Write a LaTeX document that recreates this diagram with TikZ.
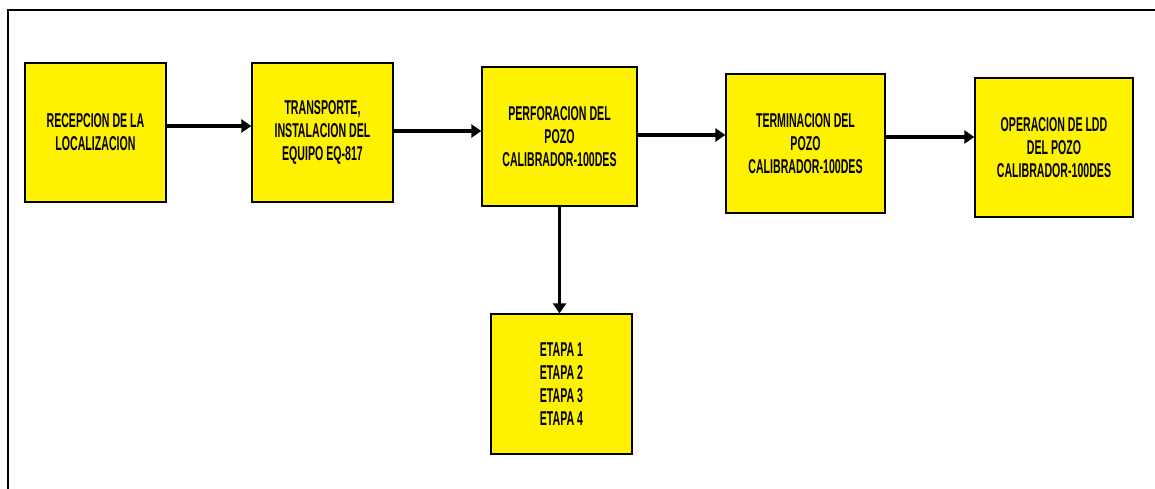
\documentclass[tikz,border=0pt]{standalone}
\usepackage{fontspec}
\setmainfont{Liberation Sans}[FakeStretch=0.53]
\usetikzlibrary{arrows.meta}
\begin{document}
\begin{tikzpicture}[x=1pt,y=-1pt,
  box/.style={draw=black, line width=1.3pt, fill=yellow, align=center, inner sep=0pt,
    font=\fontsize{20}{23}\selectfont\bfseries},
  arr/.style={line width=3.2pt, -{Triangle[length=10pt,width=13pt]}}]
\useasboundingbox (0,0) rectangle (1155,489);
\draw[line width=1.5pt] (8,489) -- (8,10) -- (1155,10);
\node[box, minimum width=141pt, minimum height=139pt] (b1) at (95.5,132.5) {RECEPCION DE LA\\LOCALIZACION};
\node[box, minimum width=141pt, minimum height=139pt] (b2) at (322.5,132.5) {TRANSPORTE,\\INSTALACION DEL\\EQUIPO EQ-817};
\node[box, minimum width=155pt, minimum height=139pt] (b3) at (559.5,136.5) {PERFORACION DEL\\POZO\\CALIBRADOR-100DES};
\node[box, minimum width=159pt, minimum height=139pt] (b4) at (805.5,143.5) {TERMINACION DEL\\POZO\\CALIBRADOR-100DES};
\node[box, minimum width=158pt, minimum height=139pt] (b5) at (1054,147.5) {OPERACION DE LDD\\DEL POZO\\CALIBRADOR-100DES};
\node[box, minimum width=141pt, minimum height=140pt] (b6) at (561.5,384) {ETAPA 1\\ETAPA 2\\ETAPA 3\\ETAPA 4};
\coordinate (a1) at ([yshift=6.5pt]b1.east);
\coordinate (a2) at ([yshift=1.5pt]b2.east);
\coordinate (a3) at ([yshift=1.5pt]b3.east);
\coordinate (a4) at ([yshift=6.5pt]b4.east);
\draw[arr] (a1) -- (b2.west |- a1);
\draw[arr] (a2) -- (b3.west |- a2);
\draw[arr] (a3) -- (b4.west |- a3);
\draw[arr] (a4) -- (b5.west |- a4);
\draw[arr] (b3.south) -- (b6.north -| b3.south);
\end{tikzpicture}
\end{document}
